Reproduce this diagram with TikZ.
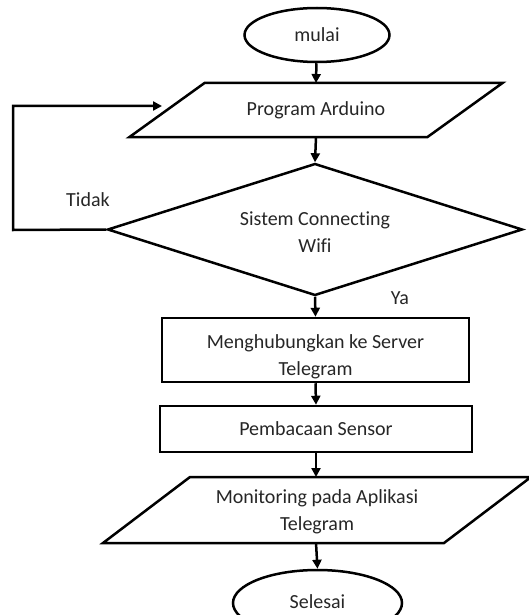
\documentclass[tikz,border=0pt]{standalone}
\usepackage{fontspec}
\setmainfont{Carlito}[Ligatures=NoCommon]
\usetikzlibrary{shapes.geometric,arrows.meta}
\begin{document}
\begin{tikzpicture}[x=1pt,y=-1pt,
  line width=2.5pt,
  every node/.style={font=\fontsize{20}{27}\selectfont, text=black!85, align=center},
  term/.style={draw=black, ellipse, inner sep=0pt},
  proc/.style={draw=black, rectangle, inner sep=0pt},
  dec/.style={draw=black, diamond, inner sep=0pt},
  shp/.style={draw=black, line join=miter},
  arr/.style={-{Triangle[length=9pt,width=9pt]}, line width=2.5pt}
]
\useasboundingbox (0,0) rectangle (529,615);

% start
\node[term, minimum width=145pt, minimum height=54pt] (mulai) at (317,35) {mulai};

% Program Arduino (parallelogram)
\node (prog) at (316,110) {Program Arduino};
\draw[shp] (prog.center) ++(-111.5,-27) -- ++(298,0) -- ++(-75,54) -- ++(-298,0) -- cycle;
\coordinate (progT) at (316,83);
\coordinate (progB) at (316,137);

% decision
\node[dec, minimum width=415pt, minimum height=132pt] (dec) at (315,229.5) {};
\node (dectext) at (315,232) {Sistem Connecting\\Wifi};

% connect to server
\node[proc, minimum width=307pt, minimum height=64pt] (server) at (315.5,350) {};
\node (servertext) at (315.5,357) {Menghubungkan ke Server\\Telegram};

% sensor
\node[proc, minimum width=312pt, minimum height=46pt] (sensor) at (316,429) {Pembacaan Sensor};

% monitoring (parallelogram)
\node (mon) at (317,512) {Monitoring pada Aplikasi\\Telegram};
\draw[shp] (317,510) ++(-127,-33) -- ++(341,0) -- ++(-87,66) -- ++(-341,0) -- cycle;
\coordinate (monT) at (316,477);
\coordinate (monB) at (316,543);

% end
\node[term, minimum width=169pt, minimum height=66pt] (selesai) at (317.5,603) {};
\node (selesaitext) at (317.5,602) {Selesai};

% connectors
\draw[arr] (mulai) -- (progT);
\draw[arr] (progB) -- (dec.north);
\draw[arr] (dec.south) -- (server.north);
\draw[arr] (server.south) -- (sensor.north);
\draw[arr] (sensor.south) -- (monT);
\draw[arr] (monB) -- (selesai.north);

% loop back
\coordinate (loopc) at (13,230);
\coordinate (loopend) at (162,106);
\draw[arr] (dec.west) -- (loopc) |- (loopend);

% labels
\node (tidak) at (88,200) {Tidak};
\node (ya) at (400,298) {Ya};
\end{tikzpicture}
\end{document}
